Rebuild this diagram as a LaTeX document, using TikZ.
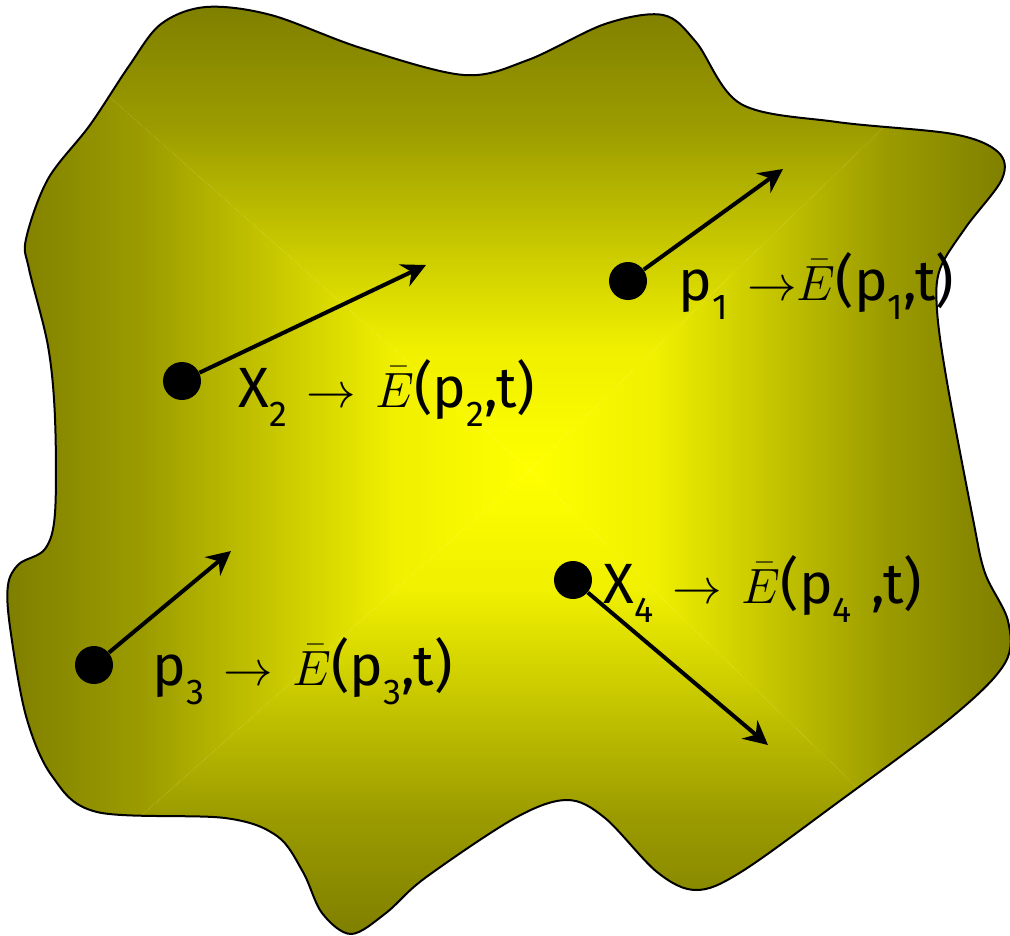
\documentclass[tikz,border=0pt]{standalone}
\usepackage{fontspec}
\setmainfont{Fira Sans}[WordSpace=1.3]
\usepackage{amsmath}
\usetikzlibrary{arrows.meta,positioning,calc}
\definecolor{cborde}{HTML}{7F7F00}
\definecolor{ccentro}{HTML}{FFFF00}
\pgfdeclareverticalshading{degradado}{100bp}{color(0bp)=(cborde); color(25bp)=(cborde);
  color(38bp)=(cborde!78!ccentro); color(62bp)=(ccentro!88!cborde);
  color(75bp)=(ccentro); color(100bp)=(ccentro)}
\tikzset{
  punto/.style={circle,fill=black,inner sep=0pt,minimum size=19bp},
  flecha/.style={-{Stealth[length=12bp,width=12bp,inset=4bp]},line width=2bp},
  et/.style={anchor=base west,inner sep=0pt,font=\fontsize{28.5}{34}\selectfont},
  borde/.style={draw=black,line width=1bp},
  cuna/.style={shading=degradado,shading angle=#1},
}
\newcommand{\subidx}[1]{\raisebox{-0.65ex}{\fontsize{18}{18}\selectfont #1}}
\newcommand{\contorno}{plot[smooth cycle,tension=0.55] coordinates {
  (26,239) (48,179) (90,125) (129,66) (161,24) (206,7) (271,15) (361,48)
  (464,75) (528,60) (605,24) (663,15) (696,42) (741,104) (837,122) (953,134)
  (998,152) (1002,179) (966,227) (940,269) (937,310) (947,382) (973,519)
  (985,573) (1008,621) (1005,663) (953,716) (837,803) (741,872) (696,890)
  (657,872) (605,818) (567,800) (515,818) (425,878) (386,913) (351,934)
  (322,913) (303,872) (277,836) (225,818) (97,812) (52,776) (26,716)
  (10,627) (8,585) (19,564) (45,549) (55,513) (55,418) (48,346) (29,269)}}
\begin{document}
\begin{tikzpicture}[x=0.5bp,y=-0.5bp]
\useasboundingbox (0,0) rectangle (1010,936);

% region with the gradient from the centre
\coordinate (o) at (530,470);
\begin{scope}
  \clip \contorno;
  \shade[cuna=180] (o) -- (6,5) -- (1010,5) -- cycle;
  \shade[cuna=0] (o) -- (6,936) -- (1010,936) -- cycle;
  \shade[cuna=-90] (o) -- (6,5) -- (6,936) -- cycle;
  \shade[cuna=90] (o) -- (1010,5) -- (1010,936) -- cycle;
\end{scope}
\draw[borde] \contorno;

\node[punto] (p1) at (628,281) {};
\node[punto] (p2) at (182,381) {};
\node[punto] (p3) at (94,665) {};
\node[punto] (p4) at (573,580) {};

\coordinate (f1) at (783,169);
\coordinate (f2) at (426,265);
\coordinate (f3) at (231,551);
\coordinate (f4) at (768,745);

\draw[flecha] (p1) -- (f1);
\draw[flecha] (p2) -- (f2);
\draw[flecha] (p3) -- (f3);
\draw[flecha] (p4) -- (f4);

\node[et] (e1) at (678,300) {p\subidx{1} $\rightarrow$$\bar{E}$(p\subidx{1},t)};
\node[et] (e2) at (238,407) {X\subidx{2} $\rightarrow$ $\bar{E}$(p\subidx{2},t)};
\node[et] (e3) at (152,685) {p\subidx{3} $\rightarrow$ $\bar{E}$(p\subidx{3},t)};
\node[et] (e4) at (603,603) {X\subidx{4} $\rightarrow$ $\bar{E}$(p\subidx{4} ,t)};

\end{tikzpicture}
\end{document}
